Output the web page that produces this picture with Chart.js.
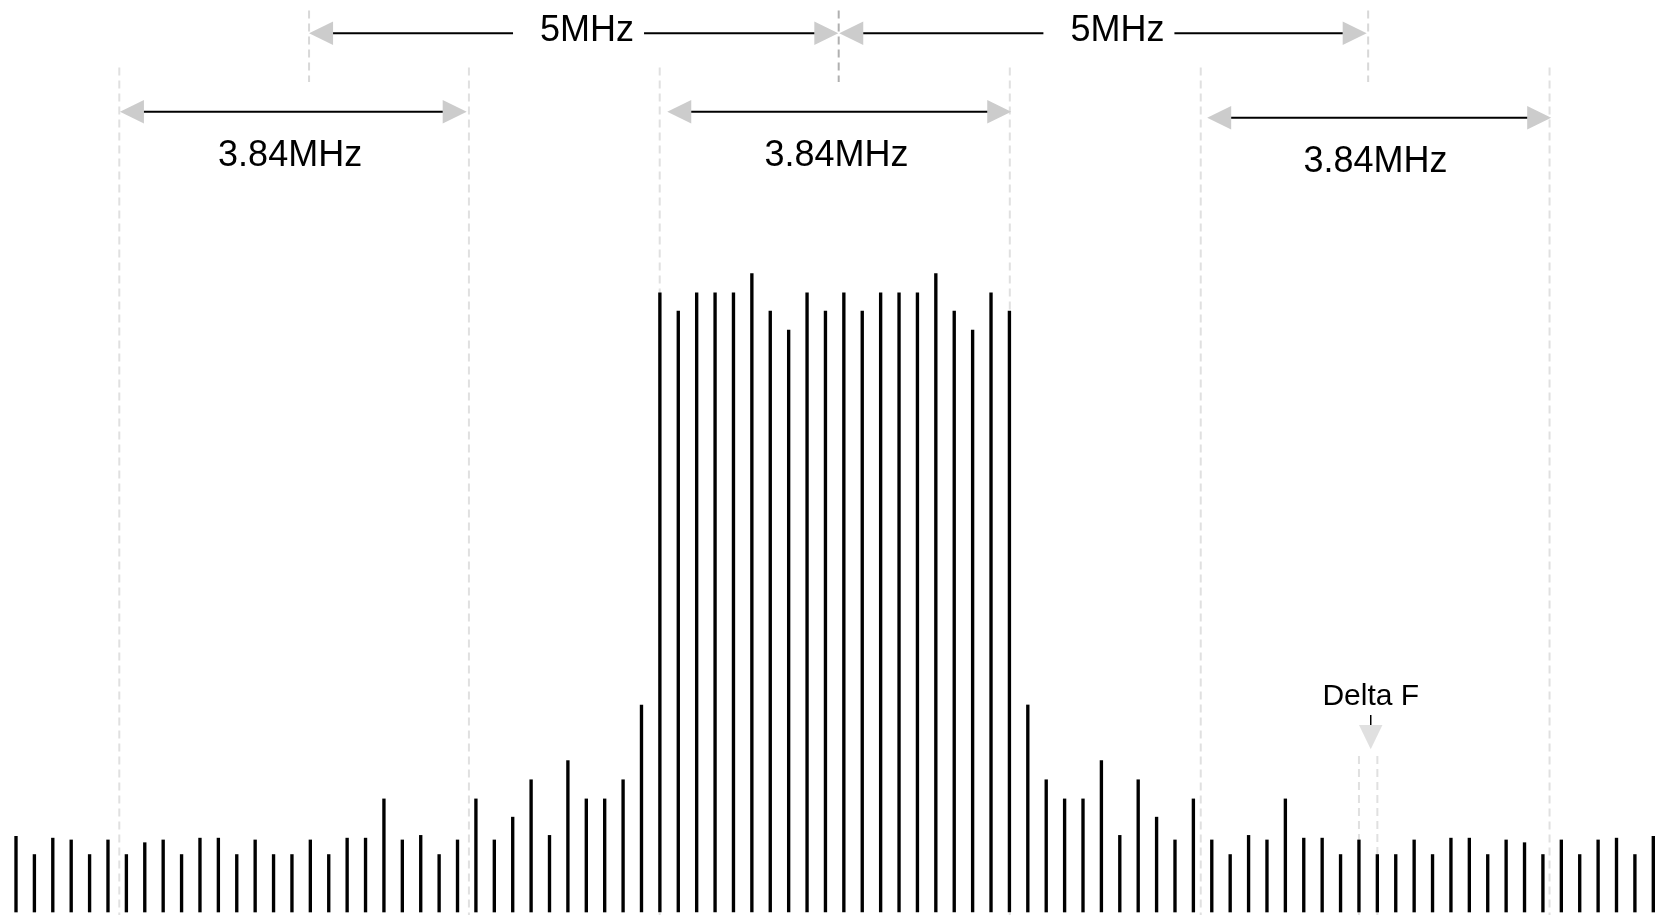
<!DOCTYPE html>
<html lang="en">
<head>
    <meta charset="UTF-8">
    <title>WCDMA carrier spectrum</title>
    <script src="https://cdn.jsdelivr.net/npm/chart.js"></script>
    <style>
        body {
            margin: 0;
            background-color: #ffffff;
        }
        .chart-container {
            position: relative;
            width: 1655px;
            height: 915px;
        }
    </style>
</head>
<body>
    <div class="chart-container">
        <canvas id="spectrum"></canvas>
    </div>

    <script>
        // Subcarrier amplitudes (relative units, 0-100), one per line from left to right
        const amplitudes = [
            8.3, 6.3, 8.1, 7.9, 6.3, 7.9, 6.3, 7.6, 7.9, 6.3,
            8.1, 8.1, 6.3, 7.9, 6.3, 6.3, 7.9, 6.3, 8.1, 8.1,
            12.4, 7.9, 8.4, 6.3, 7.9, 12.4, 7.9, 10.4, 14.5, 8.4,
            16.6, 12.4, 12.4, 14.5, 22.7, 67.9, 65.9, 67.9, 67.9, 67.9,
            70.0, 65.9, 63.8, 67.9, 65.9, 67.9, 65.9, 67.9, 67.9, 67.9,
            70.0, 65.9, 63.8, 67.9, 65.9, 22.7, 14.5, 12.4, 12.4, 16.6,
            8.4, 14.5, 10.4, 7.9, 12.4, 7.9, 6.3, 8.4, 7.9, 12.4,
            8.1, 8.1, 6.3, 7.9, 6.3, 6.3, 7.9, 6.3, 8.1, 8.1,
            6.3, 7.9, 7.6, 6.3, 7.9, 6.3, 7.9, 8.1, 6.3, 8.3
        ];
        const lineIndex = amplitudes.map((v, i) => i);

        // 3.84MHz bandwidth markers (x in line index units, y in amplitude units)
        const bandLabels = ['3.84MHz', '3.84MHz', '3.84MHz'];
        const bandEdges = [5.615, 24.62, 34.99, 54.02, 64.4, 83.36];
        const bandFrom = [5.65, 35.4, 64.75];
        const bandTo = [24.5, 54.1, 83.45];
        const bandArrowY = [87.75, 87.75, 87.09];
        const bandTextX = [14.9, 44.6, 73.9];
        const bandTextY = [81.83, 81.83, 81.18];
        const bandEdgeTop = 92.6;

        // 5MHz channel spacing markers
        const chanLabels = ['5MHz', '5MHz'];
        const chanEdges = [15.93, 44.72, 73.5];
        const chanFrom = [15.93, 44.75];
        const chanTo = [44.7, 73.42];
        const chanTextX = [31.04, 59.87];
        const chanArrowY = 96.35;
        const chanTextY = 95.54;
        const chanEdgeTop = 98.85;
        const chanEdgeBottom = 91.0;

        // Delta F (spacing between two neighbouring lines)
        const deltaLabel = 'Delta F';
        const deltaLines = [73, 74];
        const deltaX = 73.64;
        const deltaTextY = 22.7;
        const deltaTickY = [21.6, 20.5];
        const deltaHeadY = [20.5, 17.84];
        const deltaLineTop = 17.1;

        const FONT = '"Liberation Sans", Arial, sans-serif';

        function dashedLine(ctx, x, y1, y2, color) {
            ctx.save();
            ctx.strokeStyle = color;
            ctx.lineWidth = 2;
            ctx.setLineDash([8, 5]);
            ctx.beginPath();
            ctx.moveTo(x, y1);
            ctx.lineTo(x, y2);
            ctx.stroke();
            ctx.restore();
        }

        function head(ctx, tipX, y, dir) {
            // dir = -1 points left, +1 points right
            const len = 24, half = 11.7;
            ctx.fillStyle = '#cccccc';
            ctx.beginPath();
            ctx.moveTo(tipX, y);
            ctx.lineTo(tipX - dir * len, y - half);
            ctx.lineTo(tipX - dir * len, y + half);
            ctx.closePath();
            ctx.fill();
            return tipX - dir * len;
        }

        function hLine(ctx, x1, x2, y) {
            ctx.strokeStyle = '#000000';
            ctx.lineWidth = 2;
            ctx.beginPath();
            ctx.moveTo(x1, y);
            ctx.lineTo(x2, y);
            ctx.stroke();
        }

        const markers = {
            id: 'markers',
            beforeDatasetsDraw(chart) {
                const ctx = chart.ctx;
                const x = chart.scales.x, y = chart.scales.y;
                const bottom = chart.chartArea.bottom + 3;

                bandEdges.forEach(v => dashedLine(ctx, x.getPixelForValue(v), y.getPixelForValue(bandEdgeTop), bottom, '#e0e0e0'));
                chanEdges.forEach((v, i) => dashedLine(ctx, x.getPixelForValue(v), y.getPixelForValue(chanEdgeTop),
                    y.getPixelForValue(chanEdgeBottom), i === 1 ? '#b0b0b0' : '#d8d8d8'));
                deltaLines.forEach(v => dashedLine(ctx, x.getPixelForValue(v), y.getPixelForValue(deltaLineTop), bottom, '#e0e0e0'));
            },
            afterDatasetsDraw(chart) {
                const ctx = chart.ctx;
                const x = chart.scales.x, y = chart.scales.y;
                ctx.save();
                ctx.textAlign = 'center';
                ctx.textBaseline = 'alphabetic';

                // 3.84MHz arrows
                ctx.font = '36px ' + FONT;
                bandLabels.forEach((label, i) => {
                    const ay = y.getPixelForValue(bandArrowY[i]);
                    const l = head(ctx, x.getPixelForValue(bandFrom[i]), ay, -1);
                    const r = head(ctx, x.getPixelForValue(bandTo[i]), ay, 1);
                    hLine(ctx, l, r, ay);
                    ctx.fillStyle = '#000000';
                    ctx.fillText(label, x.getPixelForValue(bandTextX[i]), y.getPixelForValue(bandTextY[i]));
                });

                // 5MHz arrows with a gap for the label
                chanLabels.forEach((label, i) => {
                    const ay = y.getPixelForValue(chanArrowY);
                    const tx = x.getPixelForValue(chanTextX[i]);
                    const w = ctx.measureText(label).width;
                    const l = head(ctx, x.getPixelForValue(chanFrom[i]), ay, -1);
                    const r = head(ctx, x.getPixelForValue(chanTo[i]), ay, 1);
                    hLine(ctx, l, tx - w / 2 - 27, ay);
                    hLine(ctx, tx + w / 2 + 10, r, ay);
                    ctx.fillStyle = '#000000';
                    ctx.fillText(label, tx, y.getPixelForValue(chanTextY));
                });

                // Delta F label, tick and down arrow
                const dx = x.getPixelForValue(deltaX);
                ctx.font = '30px ' + FONT;
                ctx.fillStyle = '#000000';
                ctx.fillText(deltaLabel, dx, y.getPixelForValue(deltaTextY));
                ctx.strokeStyle = '#000000';
                ctx.lineWidth = 1.5;
                ctx.beginPath();
                ctx.moveTo(dx, y.getPixelForValue(deltaTickY[0]));
                ctx.lineTo(dx, y.getPixelForValue(deltaTickY[1]));
                ctx.stroke();
                ctx.fillStyle = '#e0e0e0';
                ctx.beginPath();
                ctx.moveTo(dx - 11.7, y.getPixelForValue(deltaHeadY[0]));
                ctx.lineTo(dx + 11.7, y.getPixelForValue(deltaHeadY[0]));
                ctx.lineTo(dx, y.getPixelForValue(deltaHeadY[1]));
                ctx.closePath();
                ctx.fill();
                ctx.restore();
            }
        };

        const ctx = document.getElementById('spectrum').getContext('2d');
        const spectrumChart = new Chart(ctx, {
            type: 'bar',
            data: {
                datasets: [{
                    data: amplitudes.map((v, i) => ({ x: lineIndex[i], y: v })),
                    backgroundColor: '#000000',
                    barThickness: 2.7,
                    clip: false
                }]
            },
            options: {
                responsive: true,
                maintainAspectRatio: false,
                animation: false,
                layout: {
                    padding: { left: 16, right: 1.7, top: 0, bottom: 3 }
                },
                plugins: {
                    legend: { display: false },
                    tooltip: { enabled: false }
                },
                scales: {
                    x: { type: 'linear', min: 0, max: 89, offset: false, display: false },
                    y: { min: 0, max: 100, display: false }
                }
            },
            plugins: [markers]
        });
    </script>
</body>
</html>
